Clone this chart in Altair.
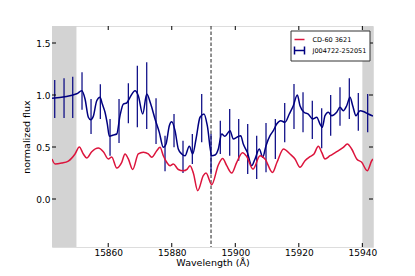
import altair as alt
import pandas as pd

# ---- data ----
blue_wl = [15842.31, 15850.09, 15851.66, 15852.70, 15853.74, 15854.49, 15855.31, 15856.38,
           15857.42, 15858.14, 15858.99, 15859.72, 15860.35, 15861.61, 15862.68, 15863.71,
           15864.75, 15865.82, 15866.86, 15868.44, 15869.47, 15870.86, 15872.12, 15873.38,
           15874.73, 15876.08, 15877.34, 15878.19, 15879.23, 15879.99, 15881.03, 15882.06,
           15883.13, 15884.17, 15885.53, 15886.60, 15887.64, 15888.90, 15890.15, 15891.19,
           15892.58, 15893.62, 15894.66, 15895.73, 15896.76, 15898.34, 15899.38, 15900.45,
           15901.71, 15902.52, 15903.78, 15905.17, 15906.21, 15907.56, 15908.63, 15909.67,
           15910.93, 15911.97, 15913.04, 15914.30, 15915.65, 15917.00, 15918.26, 15919.52,
           15920.37, 15921.63, 15922.98, 15924.37, 15925.63, 15926.67, 15927.39, 15928.24,
           15929.28, 15930.35, 15931.92, 15932.96, 15934.00, 15935.07, 15936.11, 15936.96,
           15938.00, 15939.26, 15940.52, 15941.87, 15943.35]
blue_flux = [0.968, 1.012, 1.041, 0.962, 0.786, 0.762, 0.795, 0.945,
             0.978, 0.913, 0.834, 0.721, 0.603, 0.615, 0.625, 0.801,
             0.913, 0.923, 0.978, 1.041, 0.993, 0.817, 1.010, 0.913,
             0.769, 0.641, 0.497, 0.529, 0.705, 0.743, 0.657, 0.481,
             0.433, 0.416, 0.507, 0.433, 0.577, 0.786, 0.817, 0.705,
             0.416, 0.423, 0.481, 0.625, 0.603, 0.657, 0.577, 0.593,
             0.609, 0.529, 0.449, 0.320, 0.385, 0.481, 0.401, 0.513,
             0.609, 0.657, 0.721, 0.753, 0.738, 0.817, 0.897, 1.000,
             0.897, 0.834, 0.817, 0.769, 0.786, 0.721, 0.689, 0.801,
             0.834, 0.801, 0.834, 0.882, 0.849, 0.897, 0.978, 0.897,
             0.801, 0.849, 0.839, 0.817, 0.798]

err_wl = [15843.16, 15846.09, 15848.83, 15851.75, 15854.59, 15857.51, 15860.57, 15863.40,
          15866.33, 15869.16, 15872.12, 15875.05, 15877.88, 15880.71, 15883.54, 15886.47,
          15889.43, 15892.36, 15895.28, 15898.24, 15901.08, 15903.91, 15906.74, 15909.67,
          15912.60, 15915.56, 15918.48, 15921.32, 15924.24, 15927.20, 15930.03, 15932.96,
          15935.89, 15938.72, 15941.68]
err_flux = [0.962, 0.970, 0.977, 1.038, 0.793, 0.936, 0.593, 0.750,
            0.920, 0.986, 0.994, 0.749, 0.438, 0.657, 0.405, 0.481,
            0.777, 0.433, 0.593, 0.641, 0.569, 0.481, 0.400, 0.494,
            0.577, 0.734, 0.889, 0.834, 0.761, 0.680, 0.804, 0.889,
            0.965, 0.838, 0.825]
err_size = [0.183, 0.191, 0.199, 0.180, 0.168, 0.167, 0.176, 0.212,
            0.192, 0.296, 0.321, 0.220, 0.171, 0.160, 0.155, 0.144,
            0.232, 0.192, 0.160, 0.225, 0.200, 0.240, 0.208, 0.237,
            0.192, 0.189, 0.216, 0.192, 0.184, 0.192, 0.196, 0.185,
            0.196, 0.181, 0.184]

red_wl = [15842.30, 15843.25, 15845.36, 15847.44, 15849.55, 15850.90, 15852.16, 15853.23,
          15854.81, 15856.88, 15858.46, 15860.03, 15861.10, 15862.68, 15864.25, 15865.29,
          15866.33, 15867.71, 15869.47, 15871.05, 15872.62, 15873.69, 15875.27, 15876.30,
          15877.34, 15878.41, 15879.45, 15880.49, 15882.06, 15883.64, 15884.90, 15885.75,
          15886.79, 15888.17, 15889.93, 15890.78, 15892.58, 15894.66, 15896.04, 15897.30,
          15898.87, 15900.45, 15902.27, 15903.59, 15905.58, 15907.78, 15909.35, 15911.72,
          15913.13, 15915.18, 15917.22, 15918.80, 15920.37, 15921.94, 15923.52, 15924.78,
          15926.13, 15927.20, 15928.24, 15929.81, 15931.92, 15934.00, 15935.26, 15936.64,
          15938.22, 15939.79, 15941.55, 15942.94, 15943.35]
red_flux = [0.385, 0.337, 0.346, 0.365, 0.433, 0.500, 0.433, 0.394,
            0.455, 0.490, 0.455, 0.385, 0.404, 0.298, 0.353, 0.433,
            0.385, 0.284, 0.433, 0.449, 0.433, 0.401, 0.464, 0.497,
            0.416, 0.353, 0.320, 0.337, 0.284, 0.272, 0.288, 0.320,
            0.250, 0.080, 0.224, 0.250, 0.138, 0.327, 0.389, 0.320,
            0.250, 0.353, 0.445, 0.409, 0.288, 0.416, 0.385, 0.255,
            0.353, 0.481, 0.433, 0.385, 0.305, 0.368, 0.407, 0.433,
            0.507, 0.449, 0.385, 0.416, 0.455, 0.497, 0.529, 0.481,
            0.385, 0.353, 0.272, 0.368, 0.385]

band_start = [15842.3, 15940.0]
band_end = [15850.0, 15943.35]
line_center = [15892.36]

x_ticks = [15860, 15880, 15900, 15920, 15940]
y_ticks = [0.0, 0.5, 1.0, 1.5]

series_names = ["CD-60 3621", "J004722-252051"]
series_colors = ["#dc143c", "#000080"]
series_shapes = ["stroke", "M-1,-0.8L-1,0.8M-1,0L1,0M1,-0.8L1,0.8"]

x_domain = [15842.3, 15943.35]
y_domain = [-0.4615, 1.6635]

W, H = 321, 221
FONT = "DejaVu Sans"

# ---- frames ----
blue_df = pd.DataFrame({"wl": blue_wl, "flux": blue_flux})
red_df = pd.DataFrame({"wl": red_wl, "flux": red_flux})
err_df = pd.DataFrame({"wl": err_wl, "flux": err_flux, "err": err_size})
err_df["lo"] = err_df["flux"] - err_df["err"]
err_df["hi"] = err_df["flux"] + err_df["err"]
band_df = pd.DataFrame({"x0": band_start, "x1": band_end})
vline_df = pd.DataFrame({"x": line_center})
xt_df = pd.DataFrame({"x": x_ticks})
yt_df = pd.DataFrame({"y": y_ticks})
leg_df = pd.DataFrame({"series": series_names})

xs = alt.Scale(domain=x_domain, nice=False, zero=False)
ys = alt.Scale(domain=y_domain, nice=False, zero=False)

x_axis = alt.Axis(values=x_ticks, format="d", ticks=False, domain=False, grid=False,
                  labelFont=FONT, labelFontSize=9, labelColor="#000", labelPadding=1,
                  title="Wavelength (Å)", titleFont=FONT, titleFontSize=9.5,
                  titleFontWeight="normal", titleColor="#000", titlePadding=0)
y_axis = alt.Axis(values=y_ticks, format=".1f", ticks=False, domain=False, grid=False,
                  labelFont=FONT, labelFontSize=9, labelColor="#000", labelPadding=2,
                  title="normalized flux", titleFont=FONT, titleFontSize=9.5,
                  titleFontWeight="normal", titleColor="#000", titlePadding=4)

bands = alt.Chart(band_df).mark_rect(color="#d3d3d3").encode(
    x=alt.X("x0:Q", scale=xs, axis=x_axis),
    x2="x1:Q",
    y=alt.value(0), y2=alt.value(H),
)

axis_anchor = alt.Chart(yt_df).mark_point(opacity=0).encode(
    y=alt.Y("y:Q", scale=ys, axis=y_axis)
)

vline = alt.Chart(vline_df).mark_rule(color="#222", strokeWidth=1, strokeDash=[3.5, 2]).encode(
    x=alt.X("x:Q", scale=xs)
)

color_scale = alt.Scale(domain=series_names, range=series_colors)
shape_scale = alt.Scale(domain=series_names, range=series_shapes)
legend = alt.Legend(
    title=None, orient="none", legendX=238.5, legendY=4.5,
    symbolSize=100, symbolStrokeWidth=1.5, symbolOpacity=1,
    labelFont=FONT, labelFontSize=6.5, labelColor="#000", labelOffset=7,
    rowPadding=0, padding=3, strokeColor="#333", fillColor="#fff", cornerRadius=0,
)

legend_layer = alt.Chart(leg_df).mark_point(opacity=0, filled=False).encode(
    color=alt.Color("series:N", scale=color_scale, legend=legend),
    shape=alt.Shape("series:N", scale=shape_scale, legend=legend),
)

errbars = alt.Chart(err_df).mark_rule(color="#000080", strokeWidth=1.2, clip=True).encode(
    x=alt.X("wl:Q", scale=xs),
    y=alt.Y("lo:Q", scale=ys),
    y2="hi:Q",
)

blue_line = alt.Chart(blue_df).mark_line(color="#000080", strokeWidth=1.5, clip=True,
                                         interpolate="monotone").encode(
    x=alt.X("wl:Q", scale=xs),
    y=alt.Y("flux:Q", scale=ys),
)

red_line = alt.Chart(red_df).mark_line(color="#dc143c", strokeWidth=1.5, clip=True,
                                       interpolate="monotone").encode(
    x=alt.X("wl:Q", scale=xs),
    y=alt.Y("flux:Q", scale=ys),
)

# inward tick marks on all four sides
tb = alt.Chart(xt_df).mark_rule(color="#000", strokeWidth=1).encode(
    x=alt.X("x:Q", scale=xs), y=alt.value(H), y2=alt.value(H - 4))
tt = alt.Chart(xt_df).mark_rule(color="#000", strokeWidth=1).encode(
    x=alt.X("x:Q", scale=xs), y=alt.value(0), y2=alt.value(4))
tl = alt.Chart(yt_df).mark_rule(color="#000", strokeWidth=1).encode(
    y=alt.Y("y:Q", scale=ys), x=alt.value(0), x2=alt.value(4))
tr = alt.Chart(yt_df).mark_rule(color="#000", strokeWidth=1).encode(
    y=alt.Y("y:Q", scale=ys), x=alt.value(W), x2=alt.value(W - 4))

chart = alt.layer(
    bands, axis_anchor, vline, errbars, blue_line, red_line, tb, tt, tl, tr, legend_layer
).properties(
    width=W, height=H,
    autosize=alt.AutoSizeParams(type="none"),
    padding={"left": 44, "top": 18, "right": 34, "bottom": 21},
).configure_view(
    stroke="#000", strokeWidth=1
).configure(background="#ffffff")

chart.save("out.html", embed_options={"renderer": "svg", "actions": False})
